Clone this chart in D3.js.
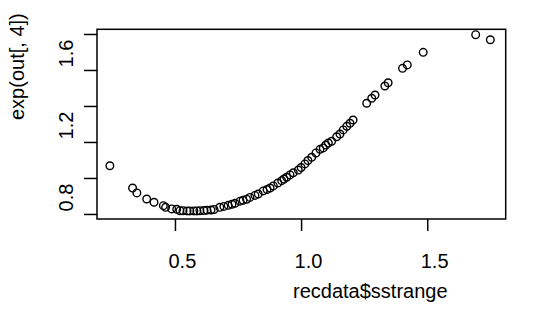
<!DOCTYPE html>
<html>
<head>
<meta charset="utf-8">
<script src="https://cdn.jsdelivr.net/npm/d3@7"></script>
<style>
  body { margin: 0; background: #fff; }
  text { font-family: "Liberation Sans", Arial, sans-serif; font-size: 20px; fill: #000; }
</style>
</head>
<body>
<div id="plot"></div>
<script>
// recdata$sstrange
var sstrange = [0.242, 0.332, 0.349, 0.388, 0.417, 0.454, 0.463, 0.487, 0.507, 0.520,
  0.532, 0.548, 0.559, 0.575, 0.587, 0.599, 0.615, 0.627, 0.643, 0.655,
  0.678, 0.694, 0.711, 0.726, 0.738, 0.758, 0.770, 0.784, 0.797, 0.817,
  0.830, 0.850, 0.865, 0.877, 0.890, 0.908, 0.923, 0.932, 0.943, 0.956,
  0.969, 0.989, 1.000, 1.015, 1.027, 1.042, 1.059, 1.075, 1.088, 1.098,
  1.108, 1.121, 1.141, 1.154, 1.167, 1.181, 1.194, 1.206, 1.260, 1.280,
  1.293, 1.332, 1.345, 1.402, 1.421, 1.484, 1.692, 1.750]
// exp(out[, 4])
var expOut = [1.068, 0.944, 0.917, 0.883, 0.865, 0.846, 0.837, 0.828, 0.826, 0.818,
  0.818, 0.817, 0.817, 0.817, 0.817, 0.818, 0.819, 0.821, 0.822, 0.825,
  0.837, 0.842, 0.848, 0.854, 0.859, 0.871, 0.876, 0.882, 0.892, 0.903,
  0.911, 0.928, 0.936, 0.944, 0.956, 0.972, 0.985, 0.994, 1.004, 1.017,
  1.029, 1.044, 1.058, 1.078, 1.097, 1.115, 1.139, 1.159, 1.167, 1.183,
  1.194, 1.204, 1.229, 1.244, 1.267, 1.287, 1.304, 1.322, 1.415, 1.443,
  1.461, 1.511, 1.529, 1.609, 1.628, 1.698, 1.796, 1.768]

var xTicks = [0.5, 1.0, 1.5]
var yTicks = [0.8, 1.0, 1.2, 1.4, 1.6, 1.8]
var yLabels = [0.8, 1.2, 1.6]

var width = 538;
var height = 333;

function chart() {
  var svg = d3.select("#plot").append("svg")
    .attr("width", width)
    .attr("height", height);

  var x = d3.scaleLinear().domain([0.191, 1.811]).range([97, 505.7]);
  var y = d3.scaleLinear().domain([0.772, 1.826]).range([219, 29.3]);

  var points = sstrange.map(function(d, i) { return [d, expOut[i]]; });

  // x axis
  svg.append("g")
    .attr("transform", "translate(0,219)")
    .call(d3.axisBottom(x).tickValues(xTicks).tickSize(12).tickFormat(d3.format(".1f")))
    .call(g => g.select(".domain").remove())
    .call(g => g.selectAll(".tick line").attr("stroke-width", 1.5))
    .call(g => g.selectAll(".tick text")
      .attr("y", 49).attr("dy", null).attr("x", -7)
      .attr("text-anchor", "start").attr("fill", "#000"));

  // y axis
  svg.append("g")
    .attr("transform", "translate(97,0)")
    .call(d3.axisLeft(y).tickValues(yTicks).tickSize(13)
      .tickFormat(d => yLabels.includes(d) ? d3.format(".1f")(d) : ""))
    .call(g => g.select(".domain").remove())
    .call(g => g.selectAll(".tick line").attr("stroke-width", 1.5))
    .call(g => g.selectAll(".tick text")
      .attr("x", 3).attr("y", 0).attr("dy", null)
      .attr("transform", "translate(-24,0) rotate(-90)")
      .attr("text-anchor", "start").attr("fill", "#000"));

  // box
  svg.append("rect")
    .attr("x", x.range()[0])
    .attr("y", y.range()[1])
    .attr("width", x.range()[1] - x.range()[0])
    .attr("height", y.range()[0] - y.range()[1])
    .attr("fill", "none")
    .attr("stroke", "#000")
    .attr("stroke-width", 1.5);

  svg.append("g")
    .selectAll("circle")
    .data(points)
    .join("circle")
      .attr("cx", d => x(d[0]))
      .attr("cy", d => y(d[1]))
      .attr("r", 3.8)
      .attr("fill", "none")
      .attr("stroke", "#000")
      .attr("stroke-width", 1.4);

  // axis titles
  svg.append("text")
    .attr("x", 293)
    .attr("y", 298)
    .text("recdata$sstrange");

  svg.append("text")
    .attr("transform", "translate(24,120) rotate(-90)")
    .text("exp(out[, 4])");
}

chart();
</script>
</body>
</html>
